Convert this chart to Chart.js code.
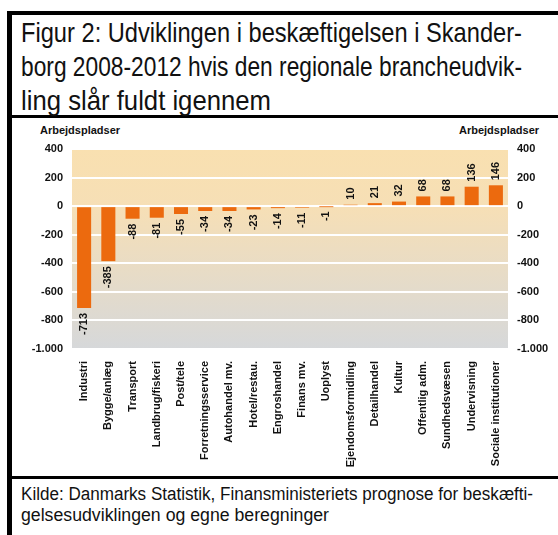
<!DOCTYPE html>
<html>
<head>
<meta charset="utf-8">
<script src="https://cdn.jsdelivr.net/npm/chart.js@4.4.0/dist/chart.umd.min.js"></script>
<style>
body{margin:0;width:558px;height:535px;position:relative;background:#fff;overflow:hidden;}
.bar{position:absolute;background:#000;}
.txt{position:absolute;left:21px;font-family:"Liberation Sans Narrow","Arial Narrow","Liberation Sans",sans-serif;color:#111;white-space:nowrap;}
.txt span{display:block;transform-origin:0 0;width:max-content;}
#title{top:16px;font-size:28px;line-height:34px;}
#note{top:484px;font-size:18px;line-height:21px;}
.axt{position:absolute;top:124px;font-family:"Liberation Sans",Arial,sans-serif;font-weight:bold;font-size:11px;color:#111;}
#wrap{position:absolute;left:12px;top:118px;width:546px;height:358px;}
</style>
</head>
<body>
<div class="bar" style="left:7px;top:11px;width:551px;height:4px"></div>
<div class="bar" style="left:7px;top:11px;width:5px;height:524px"></div>
<div class="bar" style="left:12px;top:115px;width:546px;height:3px"></div>
<div class="bar" style="left:12px;top:476px;width:546px;height:3px"></div>
<div id="title" class="txt"><span data-w="501">Figur 2: Udviklingen i beskæftigelsen i Skander-</span><span data-w="501">borg 2008-2012 hvis den regionale brancheudvik-</span><span data-w="250">ling slår fuldt igennem</span></div>
<div id="note" class="txt"><span data-w="512">Kilde: Danmarks Statistik, Finansministeriets prognose for beskæfti-</span><span data-w="308">gelsesudviklingen og egne beregninger</span></div>
<div class="axt" style="left:40px">Arbejdspladser</div>
<div class="axt" style="left:459px">Arbejdspladser</div>
<div id="wrap"><canvas id="bar-chart"></canvas></div>
<script>
var categories = ['Industri','Bygge/anlæg','Transport','Landbrug/fiskeri','Post/tele','Forretningsservice','Autohandel mv.','Hotel/restau.','Engroshandel','Finans mv.','Uoplyst','Ejendomsformidling','Detailhandel','Kultur','Offentlig adm.','Sundhedsvæsen','Undervisning','Sociale institutioner'];
var jobs = [-713,-385,-88,-81,-55,-34,-34,-23,-14,-11,-1,10,21,32,68,68,136,146];
var yMin = -1000, yMax = 400, yStep = 200;

// squeeze each header/footer line to a narrow look
document.querySelectorAll('.txt span').forEach(function(sp) {
	var k = sp.getAttribute('data-w') / sp.getBoundingClientRect().width;
	sp.style.transform = 'scaleX(' + k + ')';
});

function fmt(v) {
	var s = Math.abs(v).toString();
	if (s.length > 3) s = s.slice(0, s.length - 3) + '.' + s.slice(s.length - 3);
	return (v < 0 ? '-' : '') + s;
}

var tickFont = { family: '"Liberation Sans", Arial, sans-serif', size: 11, weight: 'bold' };

// gradient behind the plot
var bgPlugin = {
	id: 'bg',
	beforeDraw: function(chart) {
		var a = chart.chartArea, ctx = chart.ctx;
		var g = ctx.createLinearGradient(0, a.top, 0, a.bottom);
		g.addColorStop(0, '#f9e0b0');
		g.addColorStop(0.3, '#f6dfb6');
		g.addColorStop(1, '#d6d8da');
		ctx.save();
		ctx.fillStyle = g;
		ctx.fillRect(a.left, a.top, a.right - a.left, a.bottom - a.top);
		ctx.restore();
	}
};

// rotated value labels at the end of each bar
var valPlugin = {
	id: 'vals',
	afterDatasetsDraw: function(chart) {
		var ctx = chart.ctx;
		var meta = chart.getDatasetMeta(0);
		ctx.save();
		ctx.font = 'bold 11px "Liberation Sans", Arial, sans-serif';
		ctx.fillStyle = '#111';
		ctx.textBaseline = 'middle';
		meta.data.forEach(function(el, i) {
			var v = jobs[i];
			ctx.save();
			ctx.translate(el.x, v < 0 ? el.y + 5 : el.y - 5);
			ctx.rotate(-Math.PI / 2);
			ctx.textAlign = v < 0 ? 'right' : 'left';
			ctx.fillText(fmt(v), 0, 0);
			ctx.restore();
		});
		ctx.restore();
	}
};

var chart = new Chart(document.getElementById('bar-chart'), {
	type: 'bar',
	data: {
		labels: categories,
		datasets: [{
			data: jobs,
			backgroundColor: '#ec6a0e',
			barPercentage: 0.58,
			categoryPercentage: 1
		}]
	},
	options: {
		responsive: true,
		maintainAspectRatio: false,
		animation: false,
		layout: { padding: { top: 31, left: 0, right: 0, bottom: 0 } },
		plugins: {
			legend: { display: false },
			tooltip: { enabled: false }
		},
		scales: {
			x: {
				grid: { display: false },
				border: { display: false },
				ticks: {
					autoSkip: false,
					maxRotation: 90,
					minRotation: 90,
					padding: 4,
					color: '#111',
					font: tickFont
				},
				afterFit: function(s) { s.height = 127; }
			},
			y: {
				position: 'left',
				min: yMin, max: yMax,
				border: { display: false },
				grid: { color: '#ffffff', lineWidth: 2, drawTicks: false },
				ticks: { stepSize: yStep, padding: 9, color: '#111', font: tickFont, callback: fmt },
				afterFit: function(s) { s.width = 60; }
			},
			y2: {
				position: 'right',
				min: yMin, max: yMax,
				border: { display: false },
				grid: { display: false, drawTicks: false },
				ticks: { stepSize: yStep, padding: 9, color: '#111', font: tickFont, callback: fmt },
				afterFit: function(s) { s.width = 50; }
			}
		}
	},
	plugins: [bgPlugin, valPlugin]
});
</script>
</body>
</html>
